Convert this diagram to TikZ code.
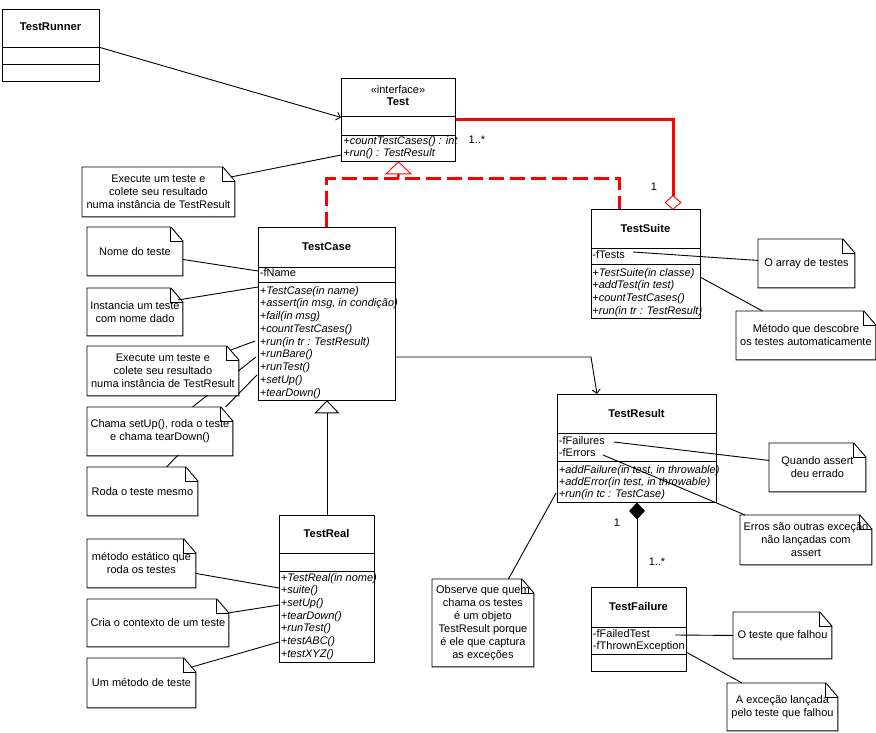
\documentclass[tikz,border=0pt]{standalone}
\usepackage{fontspec}
\setmainfont{Liberation Sans}
\usetikzlibrary{shapes.geometric,arrows.meta,backgrounds}
\newcommand\umlnote[6]{% name, x, y, width, height, text
  \node[notebox, minimum width=#4pt, minimum height=#5pt] (#1) at (#2,#3) {#6};
  \draw (#1.north west) -- ([xshift=-12pt]#1.north east) -- ([yshift=-14pt]#1.north east) -- (#1.south east) -- (#1.south west) -- cycle;
  \draw ([xshift=-12pt]#1.north east) |- ([yshift=-14pt]#1.north east);
}
\newcommand\divline[2]{\draw (#1.west |- 0,#2) -- (#1.east |- 0,#2);}
\begin{document}
\begin{tikzpicture}[x=1pt,y=-1pt,line width=0.9pt,
  cls/.style={draw, fill=white, rectangle, inner sep=0pt, anchor=north west},
  ttl/.style={font=\fontsize{11.2}{12.7}\selectfont\bfseries, inner sep=0pt, anchor=base},
  stereo/.style={font=\fontsize{11}{12.7}\selectfont, inner sep=0pt, anchor=base},
  meth/.style={font=\fontsize{11}{12.7}\selectfont\itshape, inner sep=0pt, anchor=base west},
  attr/.style={font=\fontsize{11}{12.7}\selectfont, inner sep=0pt, anchor=base west},
  lbl/.style={font=\fontsize{11}{12.7}\selectfont, inner sep=0pt},
  notebox/.style={rectangle, fill=white, inner sep=0pt, anchor=north west, align=center, font=\fontsize{11}{13}\selectfont},
  conn/.style={line width=0.9pt},
  openarrow/.style={-{Straight Barb[length=4pt,width=8pt]}},
  redsolid/.style={draw=red, line width=3pt},
  reddash/.style={draw=red, line width=3pt, dash pattern=on 15pt off 6pt},
]
\useasboundingbox (0,0) rectangle (876,733);

\coordinate (gjoin) at (398,179);
\coordinate (suitegen) at (619,209);

% ---------- classes ----------
\node[cls, minimum width=97pt, minimum height=72pt] (trun) at (2,9) {};
\divline{trun}{47}\divline{trun}{64}
\node[ttl] (trun-t) at (50.5,31) {TestRunner};

\node[cls, minimum width=114pt, minimum height=83pt] (test) at (341,78) {};
\divline{test}{116}\divline{test}{135}
\node[stereo] (test-s) at (398,94) {«interface»};
\node[ttl] (test-t) at (398,106) {Test};
\node[meth] (test-m1) at (343,145) {+countTestCases() : int};
\node[meth] (test-m2) at (343,157) {+run() : TestResult};

\node[cls, minimum width=109pt, minimum height=109pt] (ts) at (591,209) {};
\divline{ts}{248}\divline{ts}{264}
\node[ttl] (ts-t) at (645.5,232) {TestSuite};
\node[attr] (ts-a1) at (592,258) {-fTests};
\foreach \t [count=\i] in {{+TestSuite(in classe)},{+addTest(in test)},{+countTestCases()},{+run(in tr : TestResult)}}
  \node[meth] (ts-m\i) at (592,{276+(\i-1)*12.7}) {\t};

\node[cls, minimum width=137pt, minimum height=173pt] (tc) at (258,227) {};
\divline{tc}{267}\divline{tc}{282}
\node[ttl] (tc-t) at (326.5,250) {TestCase};
\node[attr] (tc-a1) at (259.5,276) {-fName};
\foreach \t [count=\i] in {{+TestCase(in name)},{+assert(in msg, in condição)},{+fail(in msg)},{+countTestCases()},{+run(in tr : TestResult)},{+runBare()},{+runTest()},{+setUp()},{+tearDown()}}
  \node[meth] (tc-m\i) at (259.5,{294+(\i-1)*12.75}) {\t};

\node[cls, minimum width=159pt, minimum height=108pt] (res) at (557,394) {};
\divline{res}{433}\divline{res}{461}
\node[ttl] (res-t) at (636.5,417) {TestResult};
\node[attr] (res-a1) at (558.5,444) {-fFailures};
\node[attr] (res-a2) at (558.5,456) {-fErrors};
\foreach \t [count=\i] in {{+addFailure(in test, in throwable)},{+addError(in test, in throwable)},{+run(in tc : TestCase)}}
  \node[meth] (res-m\i) at (558.5,{473+(\i-1)*12}) {\t};

\node[cls, minimum width=95pt, minimum height=84pt] (tf) at (591,587) {};
\divline{tf}{627}\divline{tf}{654}
\node[ttl] (tf-t) at (638.5,610) {TestFailure};
\node[attr] (tf-a1) at (592.5,637) {-fFailedTest};
\node[attr] (tf-a2) at (592.5,649) {-fThrownException};

\node[cls, minimum width=95pt, minimum height=147pt] (treal) at (279,515) {};
\divline{treal}{553}\divline{treal}{571}
\node[ttl] (treal-t) at (326.5,537) {TestReal};
\foreach \t [count=\i] in {{+TestReal(in nome)},{+suite()},{+setUp()},{+tearDown()},{+runTest()},{+testABC()},{+testXYZ()}}
  \node[meth] (treal-m\i) at (280.5,{581+(\i-1)*12.67}) {\t};

% ---------- red relations ----------
\draw[redsolid] (test.east) -| (673,196);
\node[diamond, draw=red, fill=white, line width=0.9pt, inner sep=0pt, minimum width=16pt, minimum height=14pt] (suiteagg) at (673,202.5) {};
\draw[reddash] (tc.north) |- (gjoin) -| (suitegen);
\draw[draw=red, line width=2.5pt] ([yshift=-12pt]test.south) -- (gjoin);
\draw[red, fill=white, line width=0.9pt] (test.south) -- ++(-12.5,12) -- ++(25,0) -- cycle;
\node[lbl] (m3) at (477,140) {1..*};
\node[lbl] (m4) at (654,187) {1};

% ---------- black relations ----------
\coordinate (tc-assoc) at (395,357);
\coordinate (bend) at (591,357);
\coordinate (res-in) at (597,394);
\draw[conn, openarrow] (tc-assoc) -- (bend) -- (res-in);
\draw[conn, openarrow] ([yshift=-2pt]trun.east) -- ([yshift=2.5pt]test.west);
\draw[fill=white] (tc.south) -- ++(-11.5,12) -- ++(23,0) -- cycle;
\draw ([yshift=-12pt]tc.south) -- (treal.north);
\node[diamond, draw, fill=black, inner sep=0pt, minimum width=15pt, minimum height=16pt] (resagg) at (637,511) {};
\draw (resagg.south) -- (resagg.south |- tf.north);
\node[lbl] (m1) at (617,523) {1};
\node[lbl] (m2) at (657,562) {1..*};

% ---------- notes ----------
\umlnote{exec1}{82}{167}{152}{49}{Execute um teste e\\colete seu resultado\\numa instância de TestResult}
\umlnote{suitearr}{758}{239}{96}{48}{O array de testes}
\umlnote{metodo}{736}{311}{139}{48}{Método que descobre\\os testes automaticamente}
\umlnote{nome}{87}{227}{95}{48}{Nome do teste}
\umlnote{inst}{87}{288}{95}{47}{Instancia um teste\\com nome dado}
\umlnote{exec2}{87}{346}{151}{49}{Execute um teste e\\colete seu resultado\\numa instância de TestResult}
\umlnote{chama}{87}{407}{145}{48}{Chama setUp(), roda o teste\\e chama tearDown()}
\umlnote{roda}{87}{467}{110}{48}{Roda o teste mesmo}
\umlnote{estat}{87}{539}{108}{48}{método estático que\\roda os testes}
\umlnote{cria}{87}{599}{141}{47}{Cria o contexto de um teste}
\umlnote{umm}{87}{658}{108}{49}{Um método de teste}
\umlnote{quando}{769}{443}{96}{48}{Quando assert\\deu errado}
\umlnote{erros}{740}{515}{131}{49}{Erros são outras exceção\\não lançadas com\\assert}
\umlnote{observe}{432}{579}{101}{87}{Observe que quem\\chama os testes\\é um objeto\\TestResult porque\\é ele que captura\\as exceções}
\umlnote{falhou}{733}{612}{98}{46}{O teste que falhou}
\umlnote{excecao}{727}{683}{110}{47}{A exceção lançada\\pelo teste que falhou}

% ---------- note connectors ----------
\coordinate (test-run) at (341,155);
\coordinate (tc-fname) at (258,271);
\coordinate (tc-ctor) at (258,287);
\coordinate (tc-run) at (255,341);
\coordinate (tc-runbare) at (256,357);
\coordinate (tc-runtest) at (257,375);
\coordinate (treal-suite) at (279,588);
\coordinate (treal-setup) at (279,605);
\coordinate (treal-abc) at (279,642);
\coordinate (ts-ftests) at (633,252);
\coordinate (ts-ctor) at (700,277);
\coordinate (res-fail) at (614,442);
\coordinate (res-err) at (603,455);
\coordinate (res-left) at (556,493);
\coordinate (tf-failed) at (675,635);
\coordinate (tf-thrown) at (686,652);

\draw[conn] ([shift={(-4pt,-10pt)}]exec1.north east) -- (test-run);
\draw[conn] ([yshift=-8pt]nome.east) -- (tc-fname);
\draw[conn] ([shift={(-5pt,-12pt)}]inst.north east) -- (tc-ctor);
\draw[conn] ([shift={(-8pt,-4pt)}]exec2.north east) -- (tc-run);
\draw[conn] ([yshift=-10pt]estat.east) -- (treal-suite);
\draw[conn] ([shift={(-1pt,-14pt)}]cria.north east) -- (treal-setup);
\draw[conn] ([shift={(-4pt,-9pt)}]umm.north east) -- (treal-abc);
\draw[conn] (ts-ftests) -- ([yshift=3pt]suitearr.west);
\draw[conn] (ts-ctor) -- ([xshift=-43.5pt]metodo.north);
\draw[conn] (res-fail) -- ([yshift=7pt]quando.west);
\draw[conn] (res-err) -- ([xshift=5pt]erros.north west);
\draw[conn] ([xshift=25.5pt]observe.north) -- (res-left);
\draw[conn] (tf-failed) -- (falhou.west);
\draw[conn] (tf-thrown) -- ([xshift=15pt]excecao.north west);

\begin{pgfonlayer}{background}
\draw[conn] ([xshift=32.5pt]chama.north) -- (tc-runbare);
\draw[conn] ([xshift=24pt]roda.north) -- (tc-runtest);
\end{pgfonlayer}
\end{tikzpicture}
\end{document}
